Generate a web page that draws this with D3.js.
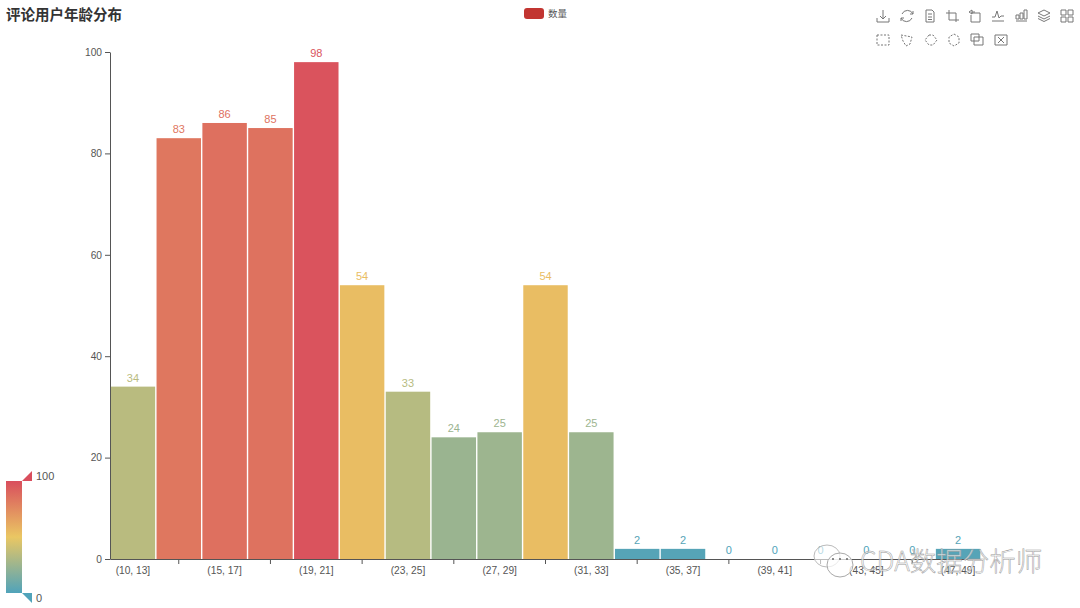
<!DOCTYPE html>
<html>
<head>
<meta charset="utf-8">
<script src="https://cdn.jsdelivr.net/npm/d3@7"></script>
<style>
  html, body { margin: 0; padding: 0; background: #fff; }
  svg { display: block; }
  text { font-family: "Liberation Sans", "Noto Sans CJK SC", sans-serif; }
</style>
</head>
<body>
<svg id="chart" width="1080" height="608"></svg>
<script>
var titleText = "评论用户年龄分布";
var seriesName = "数量";
var categories = ["(10, 13]", "(13, 15]", "(15, 17]", "(17, 19]", "(19, 21]", "(21, 23]", "(23, 25]",
  "(25, 27]", "(27, 29]", "(29, 31]", "(31, 33]", "(33, 35]", "(35, 37]", "(37, 39]", "(39, 41]",
  "(41, 43]", "(43, 45]", "(45, 47]", "(47, 49]"];
var counts = [34, 83, 86, 85, 98, 54, 33, 24, 25, 54, 25, 2, 2, 0, 0, 0, 0, 0, 2];
var yTicks = [0, 20, 40, 60, 80, 100];
var mapStops = [0, 50, 100];
var mapColors = ["#50a3ba", "#eac763", "#d94e5d"];

var svg = d3.select("#chart");

var x = d3.scaleBand().domain(categories).range([110, 981]);
var y = d3.scaleLinear().domain([0, 100]).range([559, 52]);
var color = d3.scaleLinear().domain(mapStops).range(mapColors);

// title + legend
svg.append("text").attr("x", 6).attr("y", 20)
  .style("font-family", '"Noto Sans CJK SC"')
  .style("font-size", "14.5px").style("font-weight", "700").attr("fill", "#333")
  .text(titleText);

svg.append("rect").attr("x", 524).attr("y", 8).attr("width", 20).attr("height", 11).attr("rx", 3)
  .attr("fill", "#c23531");
svg.append("text").attr("x", 548).attr("y", 17)
  .style("font-family", '"Noto Sans CJK SC"').style("font-size", "9.5px").attr("fill", "#555")
  .text(seriesName);

// bars
var bars = svg.append("g");
bars.selectAll("rect").data(counts).enter().append("rect")
  .attr("x", (d, i) => x(categories[i]) + 0.7)
  .attr("y", d => y(d))
  .attr("width", x.bandwidth() - 1.4)
  .attr("height", d => y(0) - y(d))
  .attr("fill", d => color(d));

bars.selectAll("text").data(counts).enter().append("text")
  .attr("x", (d, i) => x(categories[i]) + x.bandwidth() / 2)
  .attr("y", d => y(d) - 5)
  .attr("text-anchor", "middle")
  .style("font-size", "11px")
  .attr("fill", d => color(d))
  .text(d => d);

// axes
var yAxis = svg.append("g").attr("transform", "translate(110,0)")
  .call(d3.axisLeft(y).tickValues(yTicks).tickSize(5).tickSizeOuter(0).tickPadding(3));
var xLabels = svg.append("g").attr("transform", "translate(0,559)")
  .call(d3.axisBottom(x).tickValues(categories.filter((d, i) => i % 2 == 0)).tickSize(0).tickPadding(8));
xLabels.select(".domain").remove();
var xTicks = svg.append("g").attr("transform", "translate(0,559)")
  .call(d3.axisBottom(x).tickValues(categories.filter((d, i) => i % 2 == 1)).tickSize(5).tickSizeOuter(0).tickFormat(""));

[yAxis, xLabels, xTicks].forEach(a => {
  a.selectAll("text").style("font-size", "10.2px").style("font-family", '"Liberation Sans"').attr("fill", "#555");
  a.selectAll("line, path").attr("stroke", "#555");
});

// visual map on the left
var defs = svg.append("defs");
var grad = defs.append("linearGradient").attr("id", "mapGrad").attr("x1", 0).attr("y1", 1).attr("x2", 0).attr("y2", 0);
mapStops.forEach((s, i) => {
  grad.append("stop").attr("offset", s + "%").attr("stop-color", mapColors[i]);
});
svg.append("rect").attr("x", 6).attr("y", 481).attr("width", 16).attr("height", 112).attr("fill", "url(#mapGrad)");
svg.append("path").attr("d", "M22,481L32,471V481Z").attr("fill", color(100));
svg.append("path").attr("d", "M22,593L32,593V603Z").attr("fill", color(0));
svg.append("text").attr("x", 36).attr("y", 480).style("font-size", "11px").attr("fill", "#555").text(mapStops[2]);
svg.append("text").attr("x", 36).attr("y", 602).style("font-size", "11px").attr("fill", "#555").text(mapStops[0]);

// toolbox icons
var toolIcons = [
  [883, 16, "M-6,6H6M0,-6V3M-3,0L0,3L3,0M-6,2V6M6,2V6"],
  [907, 16, "M-5,-2A6,6 0 0 1 6,-2M5,2A6,6 0 0 1 -6,2M6,-5V-2H3M-6,5V2H-3"],
  [930, 16, "M-4,-6H2L4,-4V6H-4ZM-2,-2H2M-2,1H2M-2,3.5H2"],
  [952, 16, "M-6,-3H4V6M-3,-6V4H7"],
  [975, 16, "M-4,-3H5V6H-4V-1M-6,-4L-3,-6V-2ZM-3,-4H0"],
  [998, 16, "M-6,5H6M-6,1H-3L-1,-5L1,2L3,0H6"],
  [1021, 16, "M-5,5H6M-5,3V-1H-2V3ZM-1,3V-3H2V3ZM3,3V-6H6V3Z"],
  [1044, 16, "M0,-6L6,-3L0,0L-6,-3ZM-6,0L0,3L6,0M-6,2.5L0,5.5L6,2.5"],
  [1067, 16, "M-6,-6H-1V-1H-6ZM1,-6H6V-1H1ZM-6,1H-1V6H-6ZM1,1H6V6H1Z"],
  [883, 40, "M-6,-5H6V5H-6Z"],
  [907, 40, "M-6,-5L5,-3L3,4L-1,6L-4,1Z"],
  [931, 40, "M-2,-5H2L6,0L2,5H-2L-6,0Z"],
  [954, 40, "M0,-6L5,-3V3L0,6L-5,3V-3Z"],
  [977, 40, "M-3,-3H6V5H-3ZM-6,-6H2V1H-6Z"],
  [1001, 40, "M-6,-5H6V5H-6ZM-3,-3L3,3M3,-3L-3,3"]
];
svg.append("g").selectAll("path").data(toolIcons).enter().append("path")
  .attr("transform", d => "translate(" + d[0] + "," + d[1] + ")")
  .attr("d", d => d[2])
  .attr("fill", "none")
  .attr("stroke", "#777")
  .attr("stroke-width", 1)
  .attr("stroke-dasharray", (d, i) => i >= 9 && i < 13 ? "2,1.5" : null);

// watermark over the bottom right corner
var wm = svg.append("g");
wm.append("ellipse").attr("cx", 827).attr("cy", 556).attr("rx", 13).attr("ry", 11)
  .attr("fill", "#fff").attr("fill-opacity", 0.6).attr("stroke", "#bbb");
wm.append("ellipse").attr("cx", 840).attr("cy", 565).attr("rx", 13).attr("ry", 12)
  .attr("fill", "#fff").attr("fill-opacity", 0.7).attr("stroke", "#aaa");
wm.selectAll("circle").data([833, 840, 847]).enter().append("circle")
  .attr("cx", d => d).attr("cy", 559).attr("r", 1).attr("fill", "#666");
wm.append("text").attr("x", 860).attr("y", 571)
  .style("font-family", '"Noto Sans CJK SC"').style("font-size", "26.5px").style("font-weight", "300")
  .attr("fill", "#fff").attr("fill-opacity", 0.7).attr("stroke", "#999").attr("stroke-width", 0.5)
  .text("CDA数据分析师");
</script>
</body>
</html>
